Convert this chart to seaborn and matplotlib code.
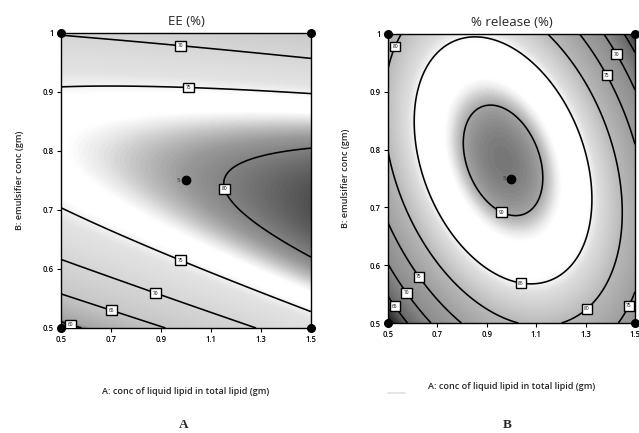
import numpy as np
import matplotlib
matplotlib.use("Agg")
import matplotlib.pyplot as plt
from matplotlib.colors import LinearSegmentedColormap
from matplotlib.lines import Line2D
import seaborn as sns

# ---------------- data ----------------
a_range = [0.5, 1.5]          # A: conc of liquid lipid in total lipid (gm)
b_range = [0.5, 1.0]          # B: emulsifier conc (gm)
x_ticks = [0.5, 0.7, 0.9, 1.1, 1.3, 1.5]
x_tick_labels = ["0.5", "0.7", "0.9", "1.1", "1.3", "1.5"]
y_ticks = [0.5, 0.6, 0.7, 0.8, 0.9, 1.0]
y_tick_labels = ["0.5", "0.6", "0.7", "0.8", "0.9", "1"]

# quadratic response-surface coefficients (coded units): b0, A, B, AB, A^2, B^2
ee_coef = [79.28, 2.48, 0.915, -4.575, -0.37, -12.2]
release_coef = [91.1, -0.94, 1.9, -7.1, -13.4, -9.5]

ee_levels = [60, 65, 70, 75, 80]
release_levels = [65, 70, 75, 80, 85, 90]

# design points
design_a = [0.5, 0.5, 1.5, 1.5]
design_b = [0.5, 1.0, 0.5, 1.0]
center_a = [1.0]
center_b = [0.75]
center_reps = ["5"]

titles = ["EE (%)", "% release (%)"]
panel_tags = ["A", "B"]
xlabel = "A: conc of liquid lipid in total lipid (gm)"
ylabel = "B: emulsifier conc (gm)"

# ---------------- style ----------------
ee_label_pos = [(0.98, 0.985), (1.01, 0.91), (1.15, 0.735), (0.985, 0.622),
                (0.885, 0.567), (0.71, 0.54), (0.545, 0.515)]
rel_label_pos = [(0.975, 0.705), (1.045, 0.585), (0.52, 0.98), (0.636, 0.583),
                 (0.582, 0.554), (0.535, 0.531), (1.285, 0.535), (1.46, 0.533),
                 (1.405, 0.933), (1.446, 0.97)]

# shading: (response value, gray level) pairs
ee_shade_vals = [58.0, 59.5, 60.5, 65, 70, 74, 75, 75.6, 77.2, 77.8, 78.5, 79.3, 80, 81.8]
ee_shade_gray = [0.05, 0.35, 0.65, 0.78, 0.84, 0.89, 0.95, 1.0, 1.0, 0.90, 0.75, 0.60, 0.52, 0.30]
rel_shade_vals = [59, 60, 62, 65, 70, 75, 80, 84, 85, 85.5, 88.6, 89.1, 89.6, 90.1, 91.3]
rel_shade_gray = [0.0, 0.05, 0.20, 0.40, 0.55, 0.62, 0.72, 0.87, 0.96, 1.0, 1.0, 0.92, 0.78, 0.64, 0.47]

sns.set_theme(style="white")
plt.rcParams["font.family"] = ["Open Sans", "DejaVu Sans"]


def make_cmap(vals, grays):
    lo, hi = vals[0], vals[-1]
    return LinearSegmentedColormap.from_list(
        "shade", [((v - lo) / (hi - lo), (g, g, g)) for v, g in zip(vals, grays)]), lo, hi


fig = plt.figure(figsize=(6.39, 4.33), dpi=100)
axA = fig.add_axes([0.0955, 0.2425, 0.3912, 0.6813])
axB = fig.add_axes([0.6072, 0.2540, 0.3865, 0.6675])

A = np.linspace(a_range[0], a_range[1], 401)
B = np.linspace(b_range[0], b_range[1], 401)
AA, BB = np.meshgrid(A, B)
X = (AA - 1.0) / 0.5
Y = (BB - 0.75) / 0.25


def surface(c):
    return c[0] + c[1] * X + c[2] * Y + c[3] * X * Y + c[4] * X ** 2 + c[5] * Y ** 2


def draw(ax, coef, levels, shade_vals, shade_gray, label_pos, title):
    Z = surface(coef)
    cmap, lo, hi = make_cmap(shade_vals, shade_gray)
    ax.imshow(Z, extent=[a_range[0], a_range[1], b_range[0], b_range[1]], origin="lower",
              aspect="auto", cmap=cmap, vmin=lo, vmax=hi, interpolation="bilinear")
    cs = ax.contour(AA, BB, Z, levels=levels, colors="black", linewidths=1.15)
    txts = ax.clabel(cs, inline=False, fontsize=3.5, fmt="%d", manual=label_pos)
    for t in txts:
        t.set_rotation(0)
        t.set_bbox(dict(boxstyle="square,pad=0.5", fc="white", ec="black", lw=1.0))
        t.set_zorder(6)
    ax.scatter(design_a, design_b, s=30, color="black", clip_on=False, zorder=7)
    ax.scatter(center_a, center_b, s=36, color="black", zorder=7)
    for ca, cb, r in zip(center_a, center_b, center_reps):
        ax.annotate(r, (ca, cb), xytext=(-4, 0), textcoords="offset points",
                    fontsize=4.5, ha="right", va="center", zorder=7)
    ax.set_xlim(*a_range)
    ax.set_ylim(*b_range)
    ax.set_xticks(x_ticks)
    ax.set_xticklabels(x_tick_labels, fontweight="semibold")
    ax.set_yticks(y_ticks)
    ax.set_yticklabels(y_tick_labels, fontweight="semibold")
    ax.tick_params(axis="both", which="both", direction="out", length=3, width=0.8,
                   labelsize=5.5, pad=2, bottom=True, left=True, colors="black")
    for s in ax.spines.values():
        s.set_color("black")
        s.set_linewidth(1.0)
    ax.set_title(title, fontsize=9.5, pad=6)
    ax.set_xlabel(xlabel, fontsize=6.5, labelpad=31, fontweight="semibold")
    ax.set_ylabel(ylabel, fontsize=6.5, labelpad=14, fontweight="semibold")


draw(axA, ee_coef, ee_levels, ee_shade_vals, ee_shade_gray, ee_label_pos, titles[0])
draw(axB, release_coef, release_levels, rel_shade_vals, rel_shade_gray, rel_label_pos, titles[1])

fig.text(184 / 639, 1 - 425 / 433, panel_tags[0], family="Liberation Serif",
         fontsize=9.5, fontweight="bold", ha="center", va="center")
fig.text(507 / 639, 1 - 425 / 433, panel_tags[1], family="Liberation Serif",
         fontsize=9.5, fontweight="bold", ha="center", va="center")
# faint scan mark left of the B axis title, as in the source image
fig.add_artist(Line2D([388 / 639, 405 / 639], [1 - 393 / 433] * 2, color="0.88", lw=1.2))

fig.savefig("out.png", dpi=100)
